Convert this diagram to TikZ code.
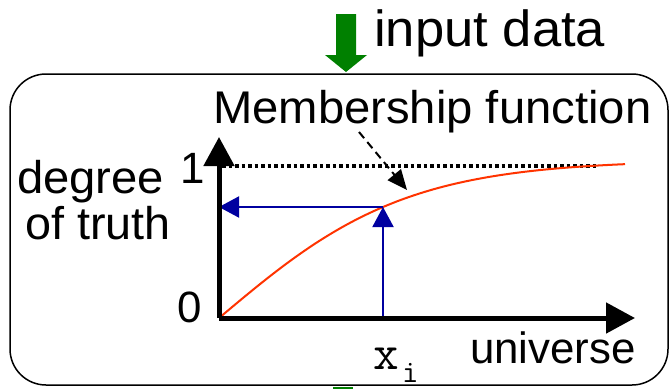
\documentclass[tikz,border=0pt]{standalone}
\usepackage{graphicx}
\usepackage{fontspec}
\setmainfont{Liberation Sans}
\usetikzlibrary{arrows.meta}
\definecolor{arrowgreen}{RGB}{0,128,0}
\definecolor{curvered}{RGB}{255,51,0}
\definecolor{markblue}{RGB}{0,0,160}
\tikzset{
  lbl/.style={inner sep=0pt, anchor=base west, font=\fontsize{46}{52}\selectfont},
  axis/.style={line width=5bp, -{Triangle[length=29bp,width=30bp]}},
  guide/.style={markblue, line width=2bp, -{Triangle[length=20bp,width=21bp]}},
  pointer/.style={line width=2bp, dash pattern=on 8bp off 5bp, -{Triangle[length=20bp,width=17bp]}},
}
\begin{document}
\begin{tikzpicture}[x=1bp,y=-1bp]
\useasboundingbox (0,0) rectangle (671,389);
% frame
\draw[line width=1.5bp, rounded corners=36bp] (10,74) rectangle (668,385);
% input arrow
\fill[arrowgreen] (336,14) -- (356,14) -- (356,55) -- (367,55) -- (346,72) -- (325,55) -- (336,55) -- cycle;
\fill[arrowgreen] (333,386.5) rectangle (353,389);
% texts
\node[lbl, font=\fontsize{51}{56}\selectfont] (input) at (374,46) {\scalebox{1.035}[1]{input data}};
\node[lbl] (mf) at (213,123) {\scalebox{1.03}[1]{Membership function}};
\node[lbl] (deg) at (17,193) {\scalebox{1.03}[1]{degree}};
\node[lbl] (truth) at (25,239) {\scalebox{1.02}[1]{of truth}};
\node[lbl, font=\fontsize{44}{50}\selectfont] (one) at (180,183) {1};
\node[lbl, font=\fontsize{44}{50}\selectfont] (zero) at (177,322) {0};
\node[lbl, font=\fontsize{44}{50}\selectfont] (univ) at (470,363) {universe};
\node[inner sep=0pt, anchor=base west, font=\ttfamily\fontsize{50}{56}\selectfont] (xi) at (373,369) {x};
\node[inner sep=0pt, anchor=base west, font=\ttfamily\fontsize{32}{36}\selectfont] (sub) at (402,382) {i};
% coordinates
\coordinate (O) at (219,318);
\coordinate (ytop) at (219,137);
\coordinate (xend) at (635,318);
\coordinate (P) at (383,207);
\coordinate (Px) at (383,318);
\coordinate (Py) at (219,207);
\coordinate (dotend) at (598,166);
\coordinate (dotstart) at (222,166);
\coordinate (ds) at (359,132);
\coordinate (de) at (407,190);
% dotted level 1
\draw[line width=3.2bp, dash pattern=on 3.5bp off 3bp] (dotstart) -- (dotend);
% membership curve
\draw[curvered, line width=2bp] plot[domain=219:625, samples=90] (\x, {318-158*tanh((\x-219)/188)});
% guide arrows
\draw[guide] (Px) -- (P);
\draw[guide] (P) -- (Py);
% axes
\draw[axis] (O) -- (ytop);
\draw[axis] (O) -- (xend);
% pointer
\draw[pointer] (ds) -- (de);
\end{tikzpicture}
\end{document}
